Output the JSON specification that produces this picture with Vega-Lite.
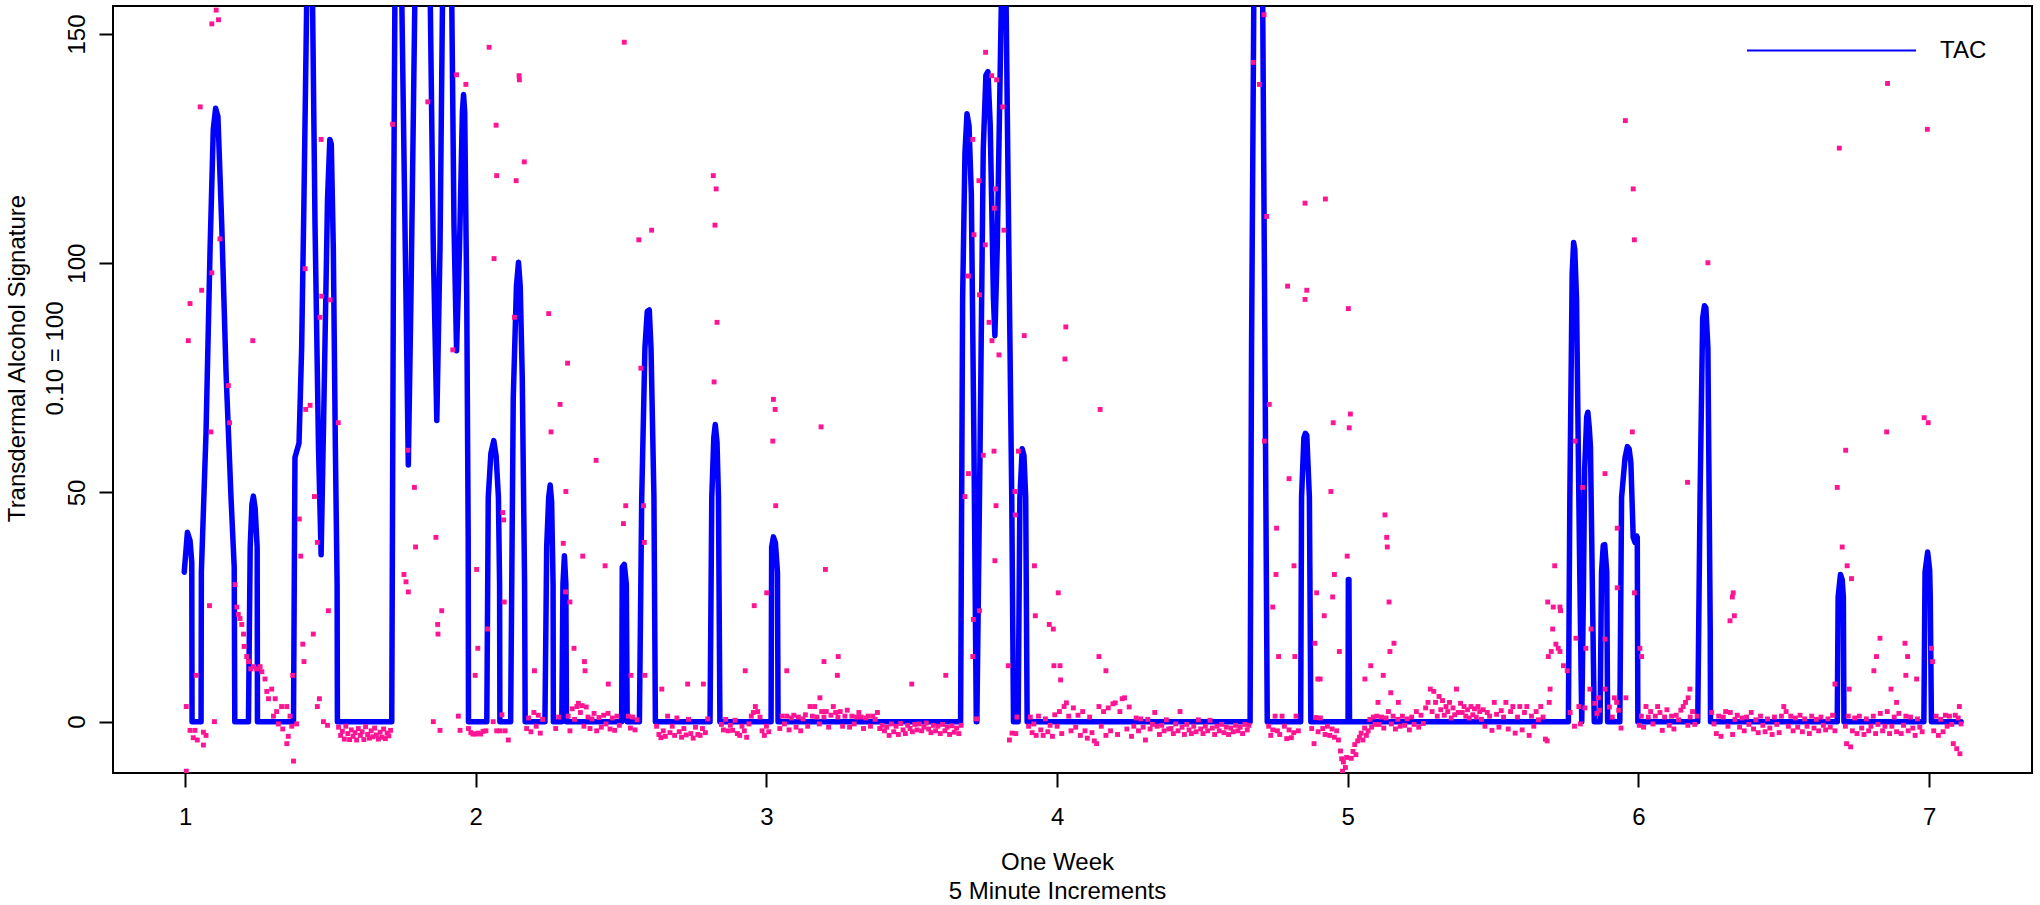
{
"$schema":"https://vega.github.io/schema/vega-lite/v6.json",
"width":1919,"height":767,
"autosize":{"type":"none"},
"padding":{"left":113,"top":6,"right":8,"bottom":132},
"background":"white",
"config":{"view":{"stroke":"#000","strokeWidth":2},"font":"Liberation Sans"},
"datasets":{
"tac":[
{"t":0.997,"v":32.6,"s":"TAC"},{"t":1.008,"v":41.3,"s":"TAC"},{"t":1.017,"v":39.5,"s":"TAC"},{"t":1.023,"v":34.8,"s":"TAC"},{"t":1.024,"v":0,"s":"TAC"},{"t":1.055,"v":0,"s":"TAC"},{"t":1.056,"v":32.6,"s":"TAC"},{"t":1.072,"v":63,"s":"TAC"},{"t":1.086,"v":103.2,"s":"TAC"},{"t":1.097,"v":129.2,"s":"TAC"},{"t":1.105,"v":133.8,"s":"TAC"},{"t":1.113,"v":132,"s":"TAC"},{"t":1.126,"v":108.6,"s":"TAC"},{"t":1.141,"v":76,"s":"TAC"},{"t":1.158,"v":48.9,"s":"TAC"},{"t":1.169,"v":33.7,"s":"TAC"},{"t":1.171,"v":0,"s":"TAC"},{"t":1.218,"v":0,"s":"TAC"},{"t":1.224,"v":38.1,"s":"TAC"},{"t":1.23,"v":47.5,"s":"TAC"},{"t":1.235,"v":49.2,"s":"TAC"},{"t":1.241,"v":46.5,"s":"TAC"},{"t":1.248,"v":38,"s":"TAC"},{"t":1.249,"v":0,"s":"TAC"},{"t":1.373,"v":0,"s":"TAC"},{"t":1.378,"v":57.6,"s":"TAC"},{"t":1.392,"v":60.8,"s":"TAC"},{"t":1.401,"v":81.5,"s":"TAC"},{"t":1.409,"v":114,"s":"TAC"},{"t":1.419,"v":160,"s":"TAC"},{"t":1.428,"v":178,"s":"TAC"},{"t":1.438,"v":160,"s":"TAC"},{"t":1.447,"v":108.6,"s":"TAC"},{"t":1.459,"v":59.8,"s":"TAC"},{"t":1.468,"v":36.4,"s":"TAC"},{"t":1.478,"v":70.6,"s":"TAC"},{"t":1.49,"v":114,"s":"TAC"},{"t":1.498,"v":127,"s":"TAC"},{"t":1.503,"v":126,"s":"TAC"},{"t":1.51,"v":103.2,"s":"TAC"},{"t":1.517,"v":59.8,"s":"TAC"},{"t":1.523,"v":30,"s":"TAC"},{"t":1.524,"v":0,"s":"TAC"},{"t":1.711,"v":0,"s":"TAC"},{"t":1.717,"v":103.2,"s":"TAC"},{"t":1.722,"v":160,"s":"TAC"},{"t":1.733,"v":215,"s":"TAC"},{"t":1.745,"v":160,"s":"TAC"},{"t":1.76,"v":92.3,"s":"TAC"},{"t":1.768,"v":56,"s":"TAC"},{"t":1.777,"v":92.3,"s":"TAC"},{"t":1.791,"v":160,"s":"TAC"},{"t":1.816,"v":215,"s":"TAC"},{"t":1.843,"v":160,"s":"TAC"},{"t":1.854,"v":103.2,"s":"TAC"},{"t":1.866,"v":65.7,"s":"TAC"},{"t":1.877,"v":103.2,"s":"TAC"},{"t":1.886,"v":160,"s":"TAC"},{"t":1.901,"v":190,"s":"TAC"},{"t":1.917,"v":160,"s":"TAC"},{"t":1.925,"v":108.6,"s":"TAC"},{"t":1.934,"v":80.9,"s":"TAC"},{"t":1.944,"v":103.2,"s":"TAC"},{"t":1.954,"v":133,"s":"TAC"},{"t":1.958,"v":136.8,"s":"TAC"},{"t":1.962,"v":133,"s":"TAC"},{"t":1.969,"v":92.3,"s":"TAC"},{"t":1.974,"v":40,"s":"TAC"},{"t":1.975,"v":0,"s":"TAC"},{"t":2.038,"v":0,"s":"TAC"},{"t":2.043,"v":48.9,"s":"TAC"},{"t":2.052,"v":58.5,"s":"TAC"},{"t":2.062,"v":61.3,"s":"TAC"},{"t":2.07,"v":58,"s":"TAC"},{"t":2.078,"v":48.9,"s":"TAC"},{"t":2.082,"v":30,"s":"TAC"},{"t":2.083,"v":0,"s":"TAC"},{"t":2.12,"v":0,"s":"TAC"},{"t":2.129,"v":70.6,"s":"TAC"},{"t":2.14,"v":95,"s":"TAC"},{"t":2.147,"v":100.2,"s":"TAC"},{"t":2.153,"v":95,"s":"TAC"},{"t":2.16,"v":75,"s":"TAC"},{"t":2.168,"v":30,"s":"TAC"},{"t":2.17,"v":0,"s":"TAC"},{"t":2.238,"v":0,"s":"TAC"},{"t":2.244,"v":38.1,"s":"TAC"},{"t":2.251,"v":49,"s":"TAC"},{"t":2.256,"v":51.6,"s":"TAC"},{"t":2.261,"v":48,"s":"TAC"},{"t":2.266,"v":30,"s":"TAC"},{"t":2.267,"v":0,"s":"TAC"},{"t":2.296,"v":0,"s":"TAC"},{"t":2.3,"v":30,"s":"TAC"},{"t":2.305,"v":36.2,"s":"TAC"},{"t":2.31,"v":30,"s":"TAC"},{"t":2.312,"v":0,"s":"TAC"},{"t":2.502,"v":0,"s":"TAC"},{"t":2.504,"v":33.7,"s":"TAC"},{"t":2.511,"v":34.3,"s":"TAC"},{"t":2.518,"v":30,"s":"TAC"},{"t":2.521,"v":0,"s":"TAC"},{"t":2.563,"v":0,"s":"TAC"},{"t":2.571,"v":48.9,"s":"TAC"},{"t":2.582,"v":81.5,"s":"TAC"},{"t":2.59,"v":89.5,"s":"TAC"},{"t":2.597,"v":89.8,"s":"TAC"},{"t":2.603,"v":81.5,"s":"TAC"},{"t":2.613,"v":48.9,"s":"TAC"},{"t":2.618,"v":0,"s":"TAC"},{"t":2.806,"v":0,"s":"TAC"},{"t":2.812,"v":48.9,"s":"TAC"},{"t":2.819,"v":62,"s":"TAC"},{"t":2.824,"v":64.8,"s":"TAC"},{"t":2.83,"v":61,"s":"TAC"},{"t":2.835,"v":48.9,"s":"TAC"},{"t":2.84,"v":0,"s":"TAC"},{"t":3.016,"v":0,"s":"TAC"},{"t":3.018,"v":38.1,"s":"TAC"},{"t":3.024,"v":40.3,"s":"TAC"},{"t":3.031,"v":39,"s":"TAC"},{"t":3.038,"v":32.6,"s":"TAC"},{"t":3.04,"v":0,"s":"TAC"},{"t":3.668,"v":0,"s":"TAC"},{"t":3.675,"v":92.3,"s":"TAC"},{"t":3.683,"v":124,"s":"TAC"},{"t":3.69,"v":132.6,"s":"TAC"},{"t":3.697,"v":130,"s":"TAC"},{"t":3.705,"v":115,"s":"TAC"},{"t":3.714,"v":59.8,"s":"TAC"},{"t":3.722,"v":0,"s":"TAC"},{"t":3.724,"v":0,"s":"TAC"},{"t":3.735,"v":59.8,"s":"TAC"},{"t":3.746,"v":124.9,"s":"TAC"},{"t":3.755,"v":141,"s":"TAC"},{"t":3.762,"v":141.8,"s":"TAC"},{"t":3.77,"v":130,"s":"TAC"},{"t":3.781,"v":92.3,"s":"TAC"},{"t":3.786,"v":84.2,"s":"TAC"},{"t":3.794,"v":103.2,"s":"TAC"},{"t":3.804,"v":141.1,"s":"TAC"},{"t":3.809,"v":160,"s":"TAC"},{"t":3.816,"v":170,"s":"TAC"},{"t":3.824,"v":160,"s":"TAC"},{"t":3.832,"v":114,"s":"TAC"},{"t":3.844,"v":48.9,"s":"TAC"},{"t":3.85,"v":0,"s":"TAC"},{"t":3.866,"v":0,"s":"TAC"},{"t":3.872,"v":48.9,"s":"TAC"},{"t":3.88,"v":59.5,"s":"TAC"},{"t":3.886,"v":58,"s":"TAC"},{"t":3.892,"v":48.9,"s":"TAC"},{"t":3.897,"v":0,"s":"TAC"},{"t":4.664,"v":0,"s":"TAC"},{"t":4.669,"v":81.5,"s":"TAC"},{"t":4.677,"v":160,"s":"TAC"},{"t":4.692,"v":178,"s":"TAC"},{"t":4.707,"v":160,"s":"TAC"},{"t":4.715,"v":81.5,"s":"TAC"},{"t":4.723,"v":0,"s":"TAC"},{"t":4.838,"v":0,"s":"TAC"},{"t":4.841,"v":48.9,"s":"TAC"},{"t":4.849,"v":61.9,"s":"TAC"},{"t":4.854,"v":62.9,"s":"TAC"},{"t":4.859,"v":62.5,"s":"TAC"},{"t":4.868,"v":48.9,"s":"TAC"},{"t":4.873,"v":0,"s":"TAC"},{"t":5.001,"v":0,"s":"TAC"},{"t":5.002,"v":31,"s":"TAC"},{"t":5.004,"v":31,"s":"TAC"},{"t":5.006,"v":0,"s":"TAC"},{"t":5.759,"v":0,"s":"TAC"},{"t":5.764,"v":48.9,"s":"TAC"},{"t":5.772,"v":97.7,"s":"TAC"},{"t":5.777,"v":104.5,"s":"TAC"},{"t":5.781,"v":103,"s":"TAC"},{"t":5.787,"v":92.3,"s":"TAC"},{"t":5.797,"v":38.1,"s":"TAC"},{"t":5.805,"v":0,"s":"TAC"},{"t":5.811,"v":30,"s":"TAC"},{"t":5.815,"v":55,"s":"TAC"},{"t":5.822,"v":66.5,"s":"TAC"},{"t":5.826,"v":67.5,"s":"TAC"},{"t":5.831,"v":64,"s":"TAC"},{"t":5.835,"v":59.8,"s":"TAC"},{"t":5.842,"v":27.2,"s":"TAC"},{"t":5.848,"v":0,"s":"TAC"},{"t":5.868,"v":0,"s":"TAC"},{"t":5.873,"v":32.6,"s":"TAC"},{"t":5.879,"v":38.5,"s":"TAC"},{"t":5.884,"v":38.6,"s":"TAC"},{"t":5.891,"v":32.6,"s":"TAC"},{"t":5.894,"v":0,"s":"TAC"},{"t":5.936,"v":0,"s":"TAC"},{"t":5.942,"v":48.9,"s":"TAC"},{"t":5.954,"v":57.6,"s":"TAC"},{"t":5.962,"v":60,"s":"TAC"},{"t":5.968,"v":59.5,"s":"TAC"},{"t":5.974,"v":56.5,"s":"TAC"},{"t":5.982,"v":40.2,"s":"TAC"},{"t":5.988,"v":39.1,"s":"TAC"},{"t":5.994,"v":40.5,"s":"TAC"},{"t":5.996,"v":40.2,"s":"TAC"},{"t":5.998,"v":0,"s":"TAC"},{"t":6.204,"v":0,"s":"TAC"},{"t":6.212,"v":48.9,"s":"TAC"},{"t":6.221,"v":88,"s":"TAC"},{"t":6.227,"v":90.7,"s":"TAC"},{"t":6.232,"v":90.3,"s":"TAC"},{"t":6.239,"v":81.5,"s":"TAC"},{"t":6.247,"v":20,"s":"TAC"},{"t":6.248,"v":0,"s":"TAC"},{"t":6.684,"v":0,"s":"TAC"},{"t":6.687,"v":27.2,"s":"TAC"},{"t":6.695,"v":32.1,"s":"TAC"},{"t":6.701,"v":31,"s":"TAC"},{"t":6.705,"v":27.2,"s":"TAC"},{"t":6.707,"v":0,"s":"TAC"},{"t":6.982,"v":0,"s":"TAC"},{"t":6.986,"v":32.6,"s":"TAC"},{"t":6.995,"v":37,"s":"TAC"},{"t":7.002,"v":33,"s":"TAC"},{"t":7.004,"v":27.2,"s":"TAC"},{"t":7.008,"v":0,"s":"TAC"},{"t":7.11,"v":0,"s":"TAC"}
],
"obs":[
{"t":1.107,"v":155.2},{"t":1.092,"v":152.2},{"t":1.115,"v":153.1},{"t":1.052,"v":134.1},{"t":1.017,"v":91.2},{"t":1.011,"v":83.1},{"t":1.057,"v":94.1},{"t":1.089,"v":63.2},{"t":1.092,"v":97.9},{"t":1.12,"v":105.3},{"t":1.084,"v":25.3},{"t":1.038,"v":10.1},{"t":1.004,"v":3.3},{"t":1.101,"v":0},{"t":1.004,"v":-10.8},{"t":1.233,"v":83.1},{"t":1.149,"v":73.3},{"t":1.153,"v":65.2},{"t":1.172,"v":29.9},{"t":1.178,"v":25},{"t":1.183,"v":23.4},{"t":1.189,"v":22.5},{"t":1.195,"v":21.2},{"t":1.201,"v":19.1},{"t":1.203,"v":16.4},{"t":1.212,"v":14.2},{"t":1.218,"v":13.1},{"t":1.226,"v":11.5},{"t":1.236,"v":12},{"t":1.246,"v":11.5},{"t":1.258,"v":12},{"t":1.264,"v":10.9},{"t":1.275,"v":9.3},{"t":1.281,"v":6.6},{"t":1.287,"v":5},{"t":1.298,"v":7.1},{"t":1.31,"v":5},{"t":1.315,"v":2.2},{"t":1.332,"v":3.3},{"t":1.35,"v":3.3},{"t":1.304,"v":1.2},{"t":1.321,"v":-0.5},{"t":1.336,"v":-1.6},{"t":1.361,"v":1.2},{"t":1.367,"v":-1},{"t":1.355,"v":-3.2},{"t":1.35,"v":-4.8},{"t":1.373,"v":-8.6},{"t":1.384,"v":-0.5},{"t":1.37,"v":10.1},{"t":1.393,"v":44.2},{"t":1.398,"v":36.1},{"t":1.415,"v":68.1},{"t":1.43,"v":69},{"t":1.413,"v":98.8},{"t":1.441,"v":19.1},{"t":1.405,"v":16.9},{"t":1.409,"v":13.1},{"t":1.47,"v":92.8},{"t":1.499,"v":92},{"t":1.468,"v":127},{"t":1.464,"v":88.2},{"t":1.445,"v":49.1},{"t":1.455,"v":39.1},{"t":1.493,"v":24.2},{"t":1.527,"v":65.2},{"t":1.462,"v":5},{"t":1.455,"v":3.3},{"t":1.476,"v":0},{"t":1.49,"v":-0.8},{"t":1.714,"v":130.3},{"t":1.753,"v":32.1},{"t":1.76,"v":30.5},{"t":1.768,"v":28.3},{"t":1.766,"v":59.2},{"t":1.789,"v":51.1},{"t":1.793,"v":38.1},{"t":1.835,"v":135.2},{"t":1.863,"v":40.2},{"t":1.869,"v":21.2},{"t":1.87,"v":19.1},{"t":1.883,"v":24.2},{"t":1.854,"v":0},{"t":1.877,"v":-1.9},{"t":1.921,"v":81.1},{"t":1.934,"v":141.1},{"t":1.966,"v":139},{"t":1.94,"v":1.2},{"t":2.003,"v":33.2},{"t":1.998,"v":10.1},{"t":2.007,"v":16},{"t":2.046,"v":147.1},{"t":2.07,"v":130.1},{"t":2.072,"v":119.1},{"t":2.063,"v":101},{"t":2.149,"v":140.9},{"t":2.15,"v":140},{"t":2.167,"v":122.1},{"t":2.139,"v":118},{"t":2.133,"v":88.2},{"t":2.093,"v":45.6},{"t":2.096,"v":44},{"t":2.041,"v":20.2},{"t":2.098,"v":26.1},{"t":2.202,"v":11.1},{"t":2.251,"v":89},{"t":2.259,"v":63.2},{"t":2.29,"v":69.2},{"t":2.316,"v":78.2},{"t":2.31,"v":50.2},{"t":2.301,"v":38.9},{"t":2.309,"v":28.3},{"t":2.324,"v":26.1},{"t":2.338,"v":16},{"t":2.368,"v":36.1},{"t":2.414,"v":57},{"t":2.374,"v":13.1},{"t":2.376,"v":11.1},
{"t":2.511,"v":148.2},{"t":2.445,"v":34},{"t":2.456,"v":8.2},{"t":2.508,"v":43.2},{"t":2.516,"v":47.1},{"t":2.534,"v":10.1},{"t":2.561,"v":105.1},{"t":2.605,"v":107.2},{"t":2.568,"v":77.1},{"t":2.577,"v":47.1},{"t":2.58,"v":39.1},{"t":2.582,"v":10.1},{"t":2.64,"v":7.1},{"t":2.729,"v":8.2},{"t":2.783,"v":8.2},{"t":2.817,"v":119.1},{"t":2.827,"v":116.2},{"t":2.823,"v":108.3},{"t":2.83,"v":87.1},{"t":2.82,"v":74.1},{"t":2.927,"v":11.1},{"t":2.958,"v":25.3},{"t":3.001,"v":28.1},{"t":3.024,"v":70.3},{"t":3.03,"v":68.1},{"t":3.022,"v":61.2},{"t":3.032,"v":47.1},{"t":3.07,"v":11.1},{"t":3.188,"v":64.3},{"t":3.203,"v":33.2},{"t":3.198,"v":13.1},{"t":3.247,"v":14.2},{"t":3.244,"v":10.1},{"t":3.184,"v":5.2},
{"t":3.5,"v":8.2},{"t":3.617,"v":10.1},{"t":3.71,"v":127},{"t":3.731,"v":118},{"t":3.714,"v":106.2},{"t":3.695,"v":97.2},{"t":3.733,"v":93.1},{"t":3.695,"v":54.1},{"t":3.683,"v":49.1},{"t":3.733,"v":24.2},{"t":3.712,"v":22.3},{"t":3.71,"v":14.2},{"t":3.754,"v":146},{"t":3.775,"v":140.9},{"t":3.792,"v":140},{"t":3.813,"v":134.1},{"t":3.788,"v":116.2},{"t":3.784,"v":112},{"t":3.753,"v":104},{"t":3.766,"v":87.1},{"t":3.776,"v":83.1},{"t":3.8,"v":80},{"t":3.817,"v":107.2},{"t":3.783,"v":59},{"t":3.79,"v":47.1},{"t":3.786,"v":35.1},{"t":3.746,"v":58.1},{"t":3.887,"v":84.2},{"t":3.867,"v":59},{"t":3.855,"v":50.2},{"t":3.856,"v":45.1},{"t":3.922,"v":34},{"t":3.925,"v":23.1},{"t":3.832,"v":12.2},{"t":4.03,"v":86.1},{"t":4.027,"v":79.1},{"t":4.148,"v":68.1},{"t":4.004,"v":28.1},{"t":3.973,"v":21.2},{"t":3.987,"v":20.2},{"t":3.989,"v":12.2},{"t":4.01,"v":12.2},{"t":4.012,"v":9.1},{"t":4.144,"v":14.2},{"t":4.168,"v":11.1},
{"t":4.675,"v":143.8},{"t":4.696,"v":139},{"t":4.712,"v":154.2},{"t":4.721,"v":110.2},{"t":4.73,"v":69.2},{"t":4.713,"v":61.2},{"t":4.853,"v":113.1},{"t":4.923,"v":114},{"t":4.793,"v":95},{"t":4.859,"v":94.1},{"t":4.853,"v":92.1},{"t":5.002,"v":90.1},{"t":4.95,"v":65.2},{"t":5.009,"v":67.1},{"t":5.005,"v":64.1},{"t":4.798,"v":53},{"t":4.942,"v":50.2},{"t":4.755,"v":42.2},{"t":4.815,"v":34},{"t":4.753,"v":32.1},{"t":4.742,"v":25},{"t":4.762,"v":14.2},{"t":4.818,"v":14.2},{"t":4.893,"v":28.1},{"t":4.919,"v":23.1},{"t":4.948,"v":27.2},{"t":4.954,"v":32.1},{"t":4.998,"v":36.1},{"t":4.971,"v":15.3},{"t":5.128,"v":45.1},{"t":5.134,"v":40.2},{"t":5.136,"v":38.1},{"t":5.142,"v":26.1},{"t":5.159,"v":17.1},{"t":5.145,"v":15.3},{"t":4.897,"v":9.3},{"t":4.905,"v":9.3},{"t":4.887,"v":17.1},{"t":5.079,"v":12.2},{"t":5.059,"v":9.3},{"t":5.122,"v":10.1},{"t":5.148,"v":6.3},{"t":5.104,"v":4.2},{"t":5.174,"v":4.2},
{"t":5.712,"v":34},{"t":5.688,"v":26.1},{"t":5.707,"v":25},{"t":5.73,"v":25},{"t":5.732,"v":24.2},{"t":5.705,"v":20.2},{"t":5.716,"v":16.9},{"t":5.724,"v":16},{"t":5.69,"v":14.2},{"t":5.7,"v":15.3},{"t":5.73,"v":15.3},{"t":5.742,"v":12.2},{"t":5.755,"v":11.1},{"t":5.696,"v":7.1},{"t":5.693,"v":4.2},{"t":5.782,"v":61.2},{"t":5.808,"v":51.1},{"t":5.785,"v":18.2},{"t":5.819,"v":16},{"t":5.885,"v":54.1},{"t":5.955,"v":131.1},{"t":5.982,"v":116.2},{"t":5.986,"v":105.1},{"t":5.979,"v":63.2},{"t":5.927,"v":42.2},{"t":5.927,"v":29.2},{"t":5.986,"v":28.1},{"t":6.005,"v":16},{"t":6.011,"v":14.2},{"t":5.885,"v":18},{"t":5.837,"v":20.2},{"t":5.833,"v":7.1},{"t":5.862,"v":5.2},{"t":5.885,"v":7.1},{"t":5.917,"v":5.2},{"t":5.925,"v":4.2},{"t":5.957,"v":5.2},{"t":6.169,"v":52.2},{"t":6.239,"v":100.1},{"t":6.177,"v":7.1},{"t":6.171,"v":5.2},{"t":6.326,"v":28.1},{"t":6.323,"v":27.2},{"t":6.33,"v":23.1},{"t":6.315,"v":22},
{"t":6.857,"v":139.2},{"t":6.994,"v":129.2},{"t":6.691,"v":125.1},{"t":6.983,"v":66.3},{"t":6.997,"v":65.2},{"t":6.854,"v":63.2},{"t":6.713,"v":59.2},{"t":6.684,"v":51.1},{"t":6.701,"v":38.1},{"t":6.718,"v":34},{"t":6.733,"v":31.2},{"t":6.725,"v":7.1},{"t":6.676,"v":8.2},{"t":6.831,"v":18.2},{"t":6.819,"v":14.2},{"t":6.81,"v":11.1},{"t":6.917,"v":17.1},{"t":6.926,"v":14.2},{"t":6.92,"v":10.1},{"t":6.957,"v":9.3},{"t":6.869,"v":7.1},{"t":6.888,"v":4.2},{"t":7.012,"v":13.1},{"t":7.008,"v":16},{"t":7.104,"v":3.3},{"t":7.083,"v":-4.8},{"t":7.095,"v":-5.9},{"t":7.106,"v":-7},
{"t":1.017,"v":-1.9},{"t":1.034,"v":-1.9},{"t":1.042,"v":-4},{"t":1.063,"v":-2.3},{"t":1.072,"v":-3},{"t":1.063,"v":-5.1},{"t":1.028,"v":-3.5},
{"t":1.528,"v":-1.2},{"t":1.535,"v":-3},{"t":1.541,"v":-2.1},{"t":1.548,"v":-3.8},{"t":1.553,"v":-1},{"t":1.56,"v":-2.6},{"t":1.566,"v":-3.9},{"t":1.572,"v":-1.8},{"t":1.578,"v":-3.2},{"t":1.585,"v":-2.4},{"t":1.59,"v":-4},{"t":1.596,"v":-1.5},{"t":1.603,"v":-3},{"t":1.609,"v":-2.2},{"t":1.615,"v":-3.9},{"t":1.621,"v":-1.1},{"t":1.628,"v":-2.8},{"t":1.634,"v":-3.6},{"t":1.64,"v":-2},{"t":1.646,"v":-3.3},{"t":1.652,"v":-1.4},{"t":1.658,"v":-2.9},{"t":1.665,"v":-3.8},{"t":1.671,"v":-2.3},{"t":1.677,"v":-3.4},{"t":1.683,"v":-1.6},{"t":1.689,"v":-3.7},{"t":1.695,"v":-2.5},{"t":1.701,"v":-3.1},{"t":1.707,"v":-1.9},
{"t":1.946,"v":-1.9},{"t":1.975,"v":-1.5},{"t":1.983,"v":-2.4},{"t":1.99,"v":-2.7},{"t":2,"v":-2.7},{"t":2.008,"v":-2.5},{"t":2.017,"v":-2.7},{"t":2.025,"v":-2.1},{"t":2.035,"v":-2},
{"t":2.06,"v":0},{"t":2.072,"v":-2},{"t":2.084,"v":-2},{"t":2.101,"v":-2},{"t":2.112,"v":-4},{"t":2.09,"v":1.5},
{"t":2.175,"v":-1.5},{"t":2.182,"v":0.8},{"t":2.19,"v":-2.2},{"t":2.2,"v":2},{"t":2.208,"v":-1},{"t":2.215,"v":1.4},{"t":2.222,"v":-2.5},{"t":2.23,"v":0.5},{"t":2.275,"v":-1.5},{"t":2.285,"v":1},
{"t":2.318,"v":1.2},{"t":2.324,"v":-2},{"t":2.332,"v":2.8},{"t":2.34,"v":0.5},{"t":2.348,"v":3.3},{"t":2.353,"v":4},{"t":2.36,"v":2},{"t":2.366,"v":3.5},{"t":2.372,"v":-1},{"t":2.38,"v":3.2},{"t":2.386,"v":1},{"t":2.393,"v":-1.5},{"t":2.4,"v":0.6},{"t":2.407,"v":1.8},{"t":2.416,"v":-2},{"t":2.424,"v":0.9},{"t":2.432,"v":-1.2},{"t":2.44,"v":1.4},{"t":2.448,"v":-0.5},{"t":2.455,"v":1.8},{"t":2.462,"v":-1.6},{"t":2.47,"v":0.8},{"t":2.478,"v":-1.9},{"t":2.486,"v":1.2},{"t":2.494,"v":-0.8},
{"t":2.525,"v":1.2},{"t":2.532,"v":-1.4},{"t":2.54,"v":1},{"t":2.548,"v":-1.8},{"t":2.555,"v":0.4},
{"t":2.622,"v":-1},{"t":2.63,"v":-2.8},{"t":2.637,"v":-3.5},{"t":2.645,"v":-2},{"t":2.652,"v":-3.2},{"t":2.66,"v":1.2},{"t":2.668,"v":-2.4},{"t":2.676,"v":-1},{"t":2.684,"v":-3},{"t":2.692,"v":0.8},{"t":2.7,"v":-2.2},{"t":2.708,"v":-3.4},{"t":2.716,"v":-1.5},{"t":2.724,"v":-2.9},{"t":2.732,"v":0.5},{"t":2.74,"v":-2.6},{"t":2.748,"v":-3.6},{"t":2.756,"v":-1.2},{"t":2.764,"v":-2.8},{"t":2.772,"v":-3},{"t":2.78,"v":-1.5},{"t":2.79,"v":-2.4},{"t":2.798,"v":0.6},
{"t":2.845,"v":-0.6},{"t":2.852,"v":-1.8},{"t":2.86,"v":0.5},{"t":2.868,"v":-2},{"t":2.876,"v":-0.8},{"t":2.884,"v":-1.9},{"t":2.892,"v":0.3},{"t":2.9,"v":-2.6},{"t":2.908,"v":-3},{"t":2.916,"v":-1},{"t":2.924,"v":-2},{"t":2.932,"v":-3.4},{"t":2.94,"v":-0.5},{"t":2.948,"v":1.2},{"t":2.955,"v":2},{"t":2.962,"v":3.3},{"t":2.97,"v":2.2},{"t":2.978,"v":1},{"t":2.985,"v":-2},{"t":2.993,"v":-3},{"t":3,"v":-1},{"t":3.008,"v":-2.2},
{"t":3.046,"v":-1.5},{"t":3.054,"v":1.2},{"t":3.062,"v":-0.5},{"t":3.07,"v":1.2},{"t":3.078,"v":-1.8},{"t":3.086,"v":0.8},{"t":3.094,"v":1.4},{"t":3.102,"v":-1.2},{"t":3.11,"v":1},{"t":3.118,"v":-2},{"t":3.126,"v":0.6},{"t":3.134,"v":1.5},{"t":3.142,"v":-1},{"t":3.15,"v":3.3},{"t":3.158,"v":1.2},{"t":3.166,"v":3.3},{"t":3.174,"v":1},{"t":3.182,"v":-0.5},{"t":3.19,"v":2.2},{"t":3.198,"v":1},{"t":3.206,"v":2.2},{"t":3.214,"v":-1.2},{"t":3.222,"v":1.4},{"t":3.23,"v":3.3},{"t":3.238,"v":2},{"t":3.246,"v":1},{"t":3.254,"v":2.2},{"t":3.262,"v":-1},{"t":3.27,"v":1.2},{"t":3.278,"v":2.5},{"t":3.286,"v":-1.2},{"t":3.294,"v":1.2},{"t":3.302,"v":-0.5},{"t":3.31,"v":1},{"t":3.318,"v":2},{"t":3.326,"v":1},{"t":3.334,"v":-1.5},{"t":3.342,"v":0.8},{"t":3.35,"v":1.2},{"t":3.358,"v":-1},{"t":3.366,"v":1.2},{"t":3.374,"v":0.5},{"t":3.382,"v":2},{"t":3.39,"v":-1.5},
{"t":3.398,"v":-0.8},{"t":3.406,"v":-2},{"t":3.414,"v":-1.2},{"t":3.422,"v":-3},{"t":3.43,"v":-0.5},{"t":3.438,"v":-2.2},{"t":3.446,"v":-1},{"t":3.454,"v":-2.8},{"t":3.462,"v":-0.4},{"t":3.47,"v":-1.8},{"t":3.478,"v":-2.6},{"t":3.486,"v":-0.8},{"t":3.494,"v":-1.5},{"t":3.502,"v":-2.2},{"t":3.51,"v":-0.6},{"t":3.518,"v":-1.8},{"t":3.526,"v":-0.5},{"t":3.534,"v":-2},{"t":3.542,"v":-1.2},{"t":3.55,"v":-0.3},{"t":3.558,"v":-1.6},{"t":3.566,"v":-2.4},{"t":3.574,"v":-0.8},{"t":3.582,"v":-2},{"t":3.59,"v":-1},{"t":3.598,"v":-2.6},{"t":3.606,"v":-0.6},{"t":3.614,"v":-2},{"t":3.622,"v":-1.2},{"t":3.63,"v":-2.8},{"t":3.638,"v":-0.9},{"t":3.646,"v":-2.3},{"t":3.654,"v":-1.4},{"t":3.662,"v":-2.6},{"t":3.67,"v":-0.8},
{"t":3.723,"v":0.6},{"t":3.836,"v":-4},{"t":3.845,"v":-2.5},{"t":3.858,"v":-2.6},{"t":3.862,"v":1},
{"t":3.902,"v":-1},{"t":3.908,"v":1},{"t":3.914,"v":-2.4},{"t":3.92,"v":-0.5},{"t":3.928,"v":-3},{"t":3.936,"v":1.2},{"t":3.944,"v":-1.8},{"t":3.952,"v":-3},{"t":3.96,"v":0.6},{"t":3.968,"v":-2.2},{"t":3.976,"v":-0.8},{"t":3.984,"v":-3.2},{"t":3.992,"v":1.5},{"t":4,"v":-1},{"t":4.008,"v":2.2},{"t":4.016,"v":-2.6},{"t":4.024,"v":3.3},{"t":4.032,"v":4.1},{"t":4.04,"v":1.2},{"t":4.048,"v":-2},{"t":4.056,"v":3},{"t":4.064,"v":-1.2},{"t":4.072,"v":1.4},{"t":4.08,"v":-3},{"t":4.088,"v":2.2},{"t":4.096,"v":-2},{"t":4.104,"v":-3.6},{"t":4.112,"v":1},{"t":4.12,"v":-2.4},{"t":4.128,"v":-4.2},{"t":4.136,"v":-4.8},{"t":4.144,"v":3.3},{"t":4.152,"v":-1},{"t":4.16,"v":2.2},{"t":4.168,"v":-3},{"t":4.176,"v":3},{"t":4.184,"v":-2},{"t":4.192,"v":3.9},{"t":4.2,"v":4.1},{"t":4.208,"v":-2.8},{"t":4.216,"v":2.2},{"t":4.224,"v":5},{"t":4.232,"v":5.2},{"t":4.24,"v":-1.6},{"t":4.248,"v":3.2},{"t":4.256,"v":-3.2},{"t":4.264,"v":-1},{"t":4.272,"v":0.8},{"t":4.28,"v":-2},{"t":4.288,"v":0.6},{"t":4.296,"v":-1.2},{"t":4.304,"v":-4},{"t":4.312,"v":0.5},{"t":4.32,"v":-1.6},{"t":4.328,"v":-0.6},{"t":4.336,"v":2},{"t":4.344,"v":-1},{"t":4.352,"v":-2.8},{"t":4.36,"v":-0.8},{"t":4.368,"v":-2},{"t":4.376,"v":0.4},{"t":4.384,"v":-1.6},
{"t":4.392,"v":-1.5},{"t":4.4,"v":-2.6},{"t":4.408,"v":-0.5},{"t":4.416,"v":-2},{"t":4.423,"v":2.2},{"t":4.43,"v":-1.2},{"t":4.438,"v":-2.8},{"t":4.446,"v":-0.6},{"t":4.454,"v":-1.8},{"t":4.462,"v":-2.6},{"t":4.47,"v":-1},{"t":4.478,"v":-2.2},{"t":4.486,"v":0.4},{"t":4.494,"v":-1.6},{"t":4.502,"v":-2.6},{"t":4.51,"v":-1},{"t":4.518,"v":-2},{"t":4.526,"v":0.3},{"t":4.534,"v":-1.4},{"t":4.542,"v":-2.8},{"t":4.55,"v":-1},{"t":4.558,"v":-2},{"t":4.566,"v":-0.6},{"t":4.574,"v":-2.4},{"t":4.582,"v":-1.2},{"t":4.59,"v":-2.8},{"t":4.598,"v":-1.4},{"t":4.606,"v":-2.2},{"t":4.614,"v":-0.8},{"t":4.622,"v":-2},{"t":4.63,"v":-1.2},{"t":4.638,"v":-2.6},{"t":4.646,"v":-0.6},{"t":4.654,"v":-1.8},{"t":4.66,"v":-0.8},
{"t":4.728,"v":-1},{"t":4.735,"v":-3},{"t":4.742,"v":-1.8},{"t":4.75,"v":1.2},{"t":4.758,"v":-2},{"t":4.766,"v":-2.8},{"t":4.774,"v":1.2},{"t":4.782,"v":-1},{"t":4.79,"v":-3.7},{"t":4.798,"v":-1.8},{"t":4.806,"v":-3.5},{"t":4.814,"v":-2.4},{"t":4.822,"v":1.2},{"t":4.83,"v":-2},
{"t":4.876,"v":-1.5},{"t":4.884,"v":-4.8},{"t":4.89,"v":0.9},{"t":4.898,"v":-2.2},{"t":4.906,"v":0.8},{"t":4.914,"v":-1.5},{"t":4.922,"v":-2.8},{"t":4.93,"v":-1},{"t":4.938,"v":-3},{"t":4.946,"v":-1.6},{"t":4.954,"v":-3.4},{"t":4.962,"v":-2},{"t":4.968,"v":-4},{"t":4.975,"v":-6.4},{"t":4.979,"v":-8.1},{"t":4.985,"v":-8.8},{"t":4.982,"v":-10.8},{"t":4.992,"v":-10},{"t":4.996,"v":-7.8},
{"t":5.012,"v":-8},{"t":5.018,"v":-6.5},{"t":5.024,"v":-5},{"t":5.028,"v":-7.2},{"t":5.034,"v":-4.2},{"t":5.04,"v":-3.4},{"t":5.046,"v":-2.5},{"t":5.052,"v":-4},{"t":5.058,"v":-1.4},{"t":5.064,"v":-3},{"t":5.07,"v":-2},{"t":5.076,"v":0.5},{"t":5.082,"v":-1.2},{"t":5.088,"v":1},{"t":5.094,"v":-0.6},
{"t":5.1,"v":1.2},{"t":5.108,"v":-0.6},{"t":5.116,"v":1},{"t":5.124,"v":-1.4},{"t":5.132,"v":0.8},{"t":5.14,"v":2.2},{"t":5.15,"v":-0.5},{"t":5.156,"v":1.2},{"t":5.164,"v":-1.6},{"t":5.172,"v":0.5},{"t":5.18,"v":-1},{"t":5.188,"v":1.2},{"t":5.196,"v":-0.8},{"t":5.204,"v":0.6},{"t":5.212,"v":-1.8},{"t":5.22,"v":1},{"t":5.228,"v":-0.6},{"t":5.236,"v":2.2},{"t":5.244,"v":-1.2},{"t":5.252,"v":1.4},{"t":5.26,"v":-0.4},{"t":5.268,"v":3},{"t":5.276,"v":4.2},{"t":5.284,"v":7.1},{"t":5.29,"v":2.2},{"t":5.296,"v":6.6},{"t":5.302,"v":4.2},{"t":5.308,"v":1.2},{"t":5.314,"v":5.5},{"t":5.32,"v":2.6},{"t":5.326,"v":4.6},{"t":5.332,"v":1.4},{"t":5.338,"v":3.3},{"t":5.344,"v":2.2},{"t":5.35,"v":4.2},{"t":5.356,"v":0.8},{"t":5.362,"v":3},{"t":5.368,"v":1.5},{"t":5.374,"v":7.1},{"t":5.38,"v":2},
{"t":5.388,"v":4},{"t":5.394,"v":2},{"t":5.4,"v":3.3},{"t":5.406,"v":1.2},{"t":5.412,"v":2.6},{"t":5.418,"v":0.8},{"t":5.424,"v":3.3},{"t":5.43,"v":1.5},{"t":5.436,"v":2.8},{"t":5.442,"v":1},{"t":5.448,"v":3.3},{"t":5.454,"v":2.2},{"t":5.46,"v":0.5},{"t":5.466,"v":2.6},{"t":5.472,"v":-1},{"t":5.48,"v":2},{"t":5.488,"v":1.2},{"t":5.496,"v":-1.9},{"t":5.504,"v":4.2},{"t":5.512,"v":1.6},{"t":5.52,"v":-1.2},{"t":5.528,"v":2.4},{"t":5.536,"v":1},{"t":5.544,"v":4.2},{"t":5.552,"v":-1.6},{"t":5.56,"v":2.2},{"t":5.568,"v":3.3},{"t":5.576,"v":-2.5},{"t":5.584,"v":1},{"t":5.592,"v":3.3},{"t":5.6,"v":-1.8},{"t":5.608,"v":2},{"t":5.616,"v":3.3},{"t":5.624,"v":-3},{"t":5.632,"v":1.2},{"t":5.64,"v":-1},{"t":5.648,"v":2.2},{"t":5.656,"v":0.4},{"t":5.664,"v":3.3},{"t":5.672,"v":1},{"t":5.68,"v":-3.8},{"t":5.686,"v":-4.2},
{"t":5.765,"v":2},{"t":5.78,"v":-1},{"t":5.795,"v":3.3},{"t":5.8,"v":-0.5},{"t":5.816,"v":3},{"t":5.85,"v":4},{"t":5.857,"v":1.8},{"t":5.866,"v":2.5},{"t":5.9,"v":3.2},{"t":5.91,"v":1},{"t":5.932,"v":2.5},{"t":5.94,"v":-1.4},
{"t":6.003,"v":-0.8},{"t":6.01,"v":1.2},{"t":6.018,"v":-1.2},{"t":6.026,"v":3.3},{"t":6.034,"v":1},{"t":6.042,"v":2.2},{"t":6.05,"v":-0.5},{"t":6.058,"v":1.2},{"t":6.066,"v":3.3},{"t":6.074,"v":2},{"t":6.082,"v":-1.9},{"t":6.09,"v":1},{"t":6.098,"v":2.6},{"t":6.106,"v":-0.8},{"t":6.114,"v":1.2},{"t":6.122,"v":-1.6},{"t":6.13,"v":1.4},{"t":6.138,"v":0.4},{"t":6.146,"v":2.5},{"t":6.154,"v":3.3},{"t":6.162,"v":4.2},{"t":6.17,"v":-0.8},{"t":6.178,"v":1},{"t":6.186,"v":2.2},{"t":6.194,"v":-0.6},{"t":6.202,"v":1.2},
{"t":6.252,"v":2},{"t":6.26,"v":-0.5},{"t":6.268,"v":-2.6},{"t":6.276,"v":1.2},{"t":6.284,"v":-3.2},{"t":6.292,"v":1},{"t":6.3,"v":2.2},{"t":6.308,"v":-1},{"t":6.316,"v":2},{"t":6.324,"v":-2.8},{"t":6.332,"v":0.5},{"t":6.34,"v":1.4},{"t":6.348,"v":-1.2},{"t":6.356,"v":0.8},{"t":6.364,"v":-2},{"t":6.372,"v":1},{"t":6.38,"v":-0.6},{"t":6.388,"v":2},{"t":6.396,"v":-1.6},{"t":6.404,"v":0.4},{"t":6.412,"v":-2.4},{"t":6.42,"v":1.2},{"t":6.428,"v":-0.8},{"t":6.436,"v":-2.2},{"t":6.444,"v":0.6},{"t":6.452,"v":-1.4},{"t":6.46,"v":-2.8},{"t":6.468,"v":1},{"t":6.476,"v":-0.6},{"t":6.484,"v":-2.4},{"t":6.492,"v":1.2},{"t":6.5,"v":3.3},{"t":6.508,"v":2.2},{"t":6.516,"v":-1},{"t":6.524,"v":1.2},{"t":6.532,"v":-2},{"t":6.54,"v":0.8},{"t":6.548,"v":-1.2},{"t":6.556,"v":1.4},{"t":6.564,"v":-2.2},{"t":6.572,"v":0.6},{"t":6.58,"v":-1},{"t":6.588,"v":-2.6},{"t":6.596,"v":1.2},{"t":6.604,"v":-1.4},{"t":6.612,"v":0.5},{"t":6.62,"v":-2},{"t":6.628,"v":1},{"t":6.636,"v":-0.8},{"t":6.644,"v":-1.8},{"t":6.652,"v":0.6},{"t":6.66,"v":-1.2},{"t":6.668,"v":1.4},{"t":6.676,"v":-2},
{"t":6.712,"v":-1},{"t":6.716,"v":-4.8},{"t":6.722,"v":1.2},{"t":6.73,"v":-5.5},{"t":6.736,"v":-2},{"t":6.744,"v":0.8},{"t":6.752,"v":-2.6},{"t":6.76,"v":1.2},{"t":6.768,"v":-1.4},{"t":6.776,"v":-2.8},{"t":6.784,"v":0.6},{"t":6.792,"v":-2},{"t":6.8,"v":-1},{"t":6.808,"v":1.2},{"t":6.816,"v":-2.6},{"t":6.824,"v":-0.6},{"t":6.832,"v":1.8},{"t":6.84,"v":-2},{"t":6.848,"v":-1},{"t":6.856,"v":2.2},{"t":6.864,"v":-2.6},{"t":6.872,"v":-1},{"t":6.88,"v":1},{"t":6.888,"v":-2.2},{"t":6.896,"v":1.8},{"t":6.904,"v":-2.6},{"t":6.912,"v":-0.8},{"t":6.92,"v":1.2},{"t":6.928,"v":-2},{"t":6.936,"v":1},{"t":6.944,"v":-1.4},{"t":6.952,"v":-3},{"t":6.96,"v":0.6},{"t":6.968,"v":-1.2},{"t":6.976,"v":-2.2},
{"t":7.016,"v":-2},{"t":7.024,"v":1.2},{"t":7.032,"v":-3},{"t":7.04,"v":0.5},{"t":7.048,"v":-2.2},{"t":7.056,"v":1.4},{"t":7.062,"v":-1},{"t":7.07,"v":1.2},{"t":7.078,"v":-0.6},{"t":7.09,"v":1.4},{"t":7.1,"v":0.8},{"t":7.11,"v":-0.5}
]},
"layer":[
{"data":{"name":"tac"},
 "mark":{"type":"line","strokeWidth":5.5,"clip":true,"strokeJoin":"round","strokeCap":"round"},
 "encoding":{
  "x":{"field":"t","type":"quantitative","scale":{"domain":[0.752,7.354],"nice":false,"zero":false},
   "axis":{"values":[1,2,3,4,5,6,7],"format":"d","domain":false,"grid":false,"tickSize":14,"tickWidth":2,"tickColor":"#000","labelFontSize":24,"labelColor":"#000","labelPadding":18,"labelFont":"Liberation Sans",
    "title":["One Week","5 Minute Increments"],"titleFont":"Liberation Sans","titleFontSize":24,"titleFontWeight":"normal","titleColor":"#000","titleLineHeight":29,"titleX":944,"titleY":96,"titleAlign":"center","titleBaseline":"alphabetic"}},
  "y":{"field":"v","type":"quantitative","scale":{"domain":[-11.2,156.1],"nice":false,"zero":false},
   "axis":{"values":[0,50,100,150],"format":"d","domain":false,"grid":false,"tickSize":14,"tickWidth":2,"tickColor":"#000","labelFontSize":24,"labelColor":"#000","labelAngle":270,"labelAlign":"center","labelBaseline":"alphabetic","labelPadding":15,"labelFont":"Liberation Sans",
    "title":["Transdermal Alcohol Signature","0.10 = 100"],"titleFont":"Liberation Sans","titleFontSize":24,"titleFontWeight":"normal","titleColor":"#000","titleAngle":270,"titleLineHeight":38,"titleX":-89,"titleY":352,"titleAlign":"center","titleBaseline":"alphabetic"}},
  "color":{"field":"s","type":"nominal","scale":{"domain":["TAC"],"range":["#0000FF"]},
   "legend":{"title":null,"orient":"none","legendX":1633,"legendY":-41,"padding":0,"symbolType":"stroke","symbolSize":28561,"symbolStrokeWidth":2,"labelFontSize":24,"labelFont":"Liberation Sans","labelColor":"#000","labelOffset":23}}
 }},
{"data":{"name":"obs"},
 "mark":{"type":"square","size":24,"color":"#FF1493","opacity":1,"clip":true},
 "encoding":{"x":{"field":"t","type":"quantitative"},"y":{"field":"v","type":"quantitative"}}}
]
}
